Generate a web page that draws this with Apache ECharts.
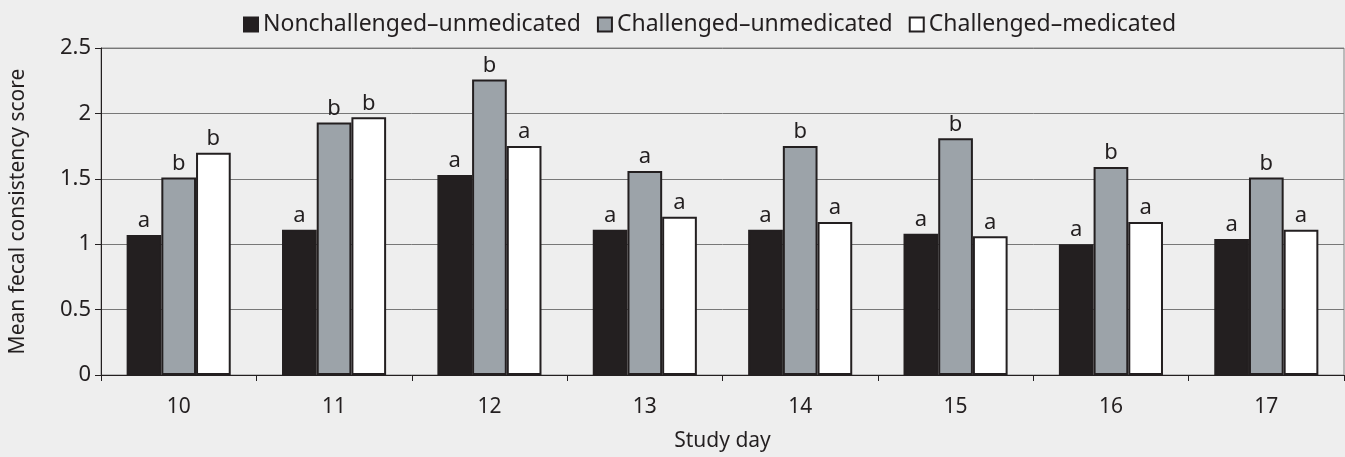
<!DOCTYPE html>
<html>
<head>
<meta charset="utf-8">
<script src="https://cdn.jsdelivr.net/npm/echarts@6/dist/echarts.min.js"></script>
<style>
  html, body { margin: 0; padding: 0; background: #eeeeee; }
  #chart { width: 1345px; height: 457px; }
</style>
</head>
<body>
<div id="chart"></div>
<script>
const days = ["10", "11", "12", "13", "14", "15", "16", "17"]

// mean scores
const nonchallengedUnmedicated = [1.07, 1.11, 1.53, 1.11, 1.11, 1.08, 1.0, 1.04]
const challengedUnmedicated = [1.51, 1.93, 2.26, 1.56, 1.75, 1.81, 1.59, 1.51]
const challengedMedicated = [1.7, 1.97, 1.75, 1.21, 1.17, 1.06, 1.17, 1.11]

// significance letters above each bar
const lettersNU = ["a", "a", "a", "a", "a", "a", "a", "a"]
const lettersCU = ["b", "b", "b", "a", "b", "b", "b", "b"]
const lettersCM = ["b", "b", "a", "a", "a", "a", "a", "a"]

const font = "Noto Sans"

function makeSeries(name, values, letters, color) {
  return {
    name: name,
    type: "bar",
    barGap: "0%",
    barCategoryGap: "33%",
    itemStyle: { color: color, borderColor: "#231f20", borderWidth: 2 },
    label: {
      show: true,
      position: "top",
      distance: 3,
      fontFamily: font,
      fontSize: 22,
      color: "#231f20",
      formatter: (p) => letters[p.dataIndex]
    },
    data: values
  }
}

const myChart = echarts.init(document.getElementById("chart"))
const option = {
  backgroundColor: "#eeeeee",
  animation: false,
  legend: {
    top: 8,
    left: 238,
    icon: "rect",
    itemWidth: 14,
    itemHeight: 14,
    itemGap: 16,
    textStyle: { fontFamily: font, fontSize: 23, color: "#231f20" },
    data: ["Nonchallenged–unmedicated", "Challenged–unmedicated", "Challenged–medicated"]
  },
  grid: {
    left: 97,
    right: 1,
    top: 48,
    bottom: 81,
    show: true,
    borderColor: "#888888",
    borderWidth: 1
  },
  xAxis: {
    type: "category",
    data: days,
    name: "Study day",
    nameLocation: "middle",
    nameGap: 56,
    nameTextStyle: { fontFamily: font, fontSize: 21, color: "#231f20" },
    axisLine: { lineStyle: { color: "#231f20", width: 1 } },
    axisTick: { show: true, length: 6, lineStyle: { color: "#231f20" } },
    axisLabel: { fontFamily: font, fontSize: 21, color: "#231f20", margin: 22 }
  },
  yAxis: {
    type: "value",
    min: 0,
    max: 2.5,
    interval: 0.5,
    name: "Mean fecal consistency score",
    nameLocation: "middle",
    nameGap: 72,
    nameTextStyle: { fontFamily: font, fontSize: 21, color: "#231f20" },
    axisLine: { show: true, lineStyle: { color: "#231f20", width: 1 } },
    axisTick: { show: true, length: 6, lineStyle: { color: "#231f20" } },
    axisLabel: { fontFamily: font, fontSize: 22, color: "#231f20", margin: 10 },
    splitLine: { lineStyle: { color: "#777777", width: 1 } }
  },
  series: [
    makeSeries("Nonchallenged–unmedicated", nonchallengedUnmedicated, lettersNU, "#231f20"),
    makeSeries("Challenged–unmedicated", challengedUnmedicated, lettersCU, "#9ca3a9"),
    makeSeries("Challenged–medicated", challengedMedicated, lettersCM, "#ffffff")
  ]
}
myChart.setOption(option)
</script>
</body>
</html>
